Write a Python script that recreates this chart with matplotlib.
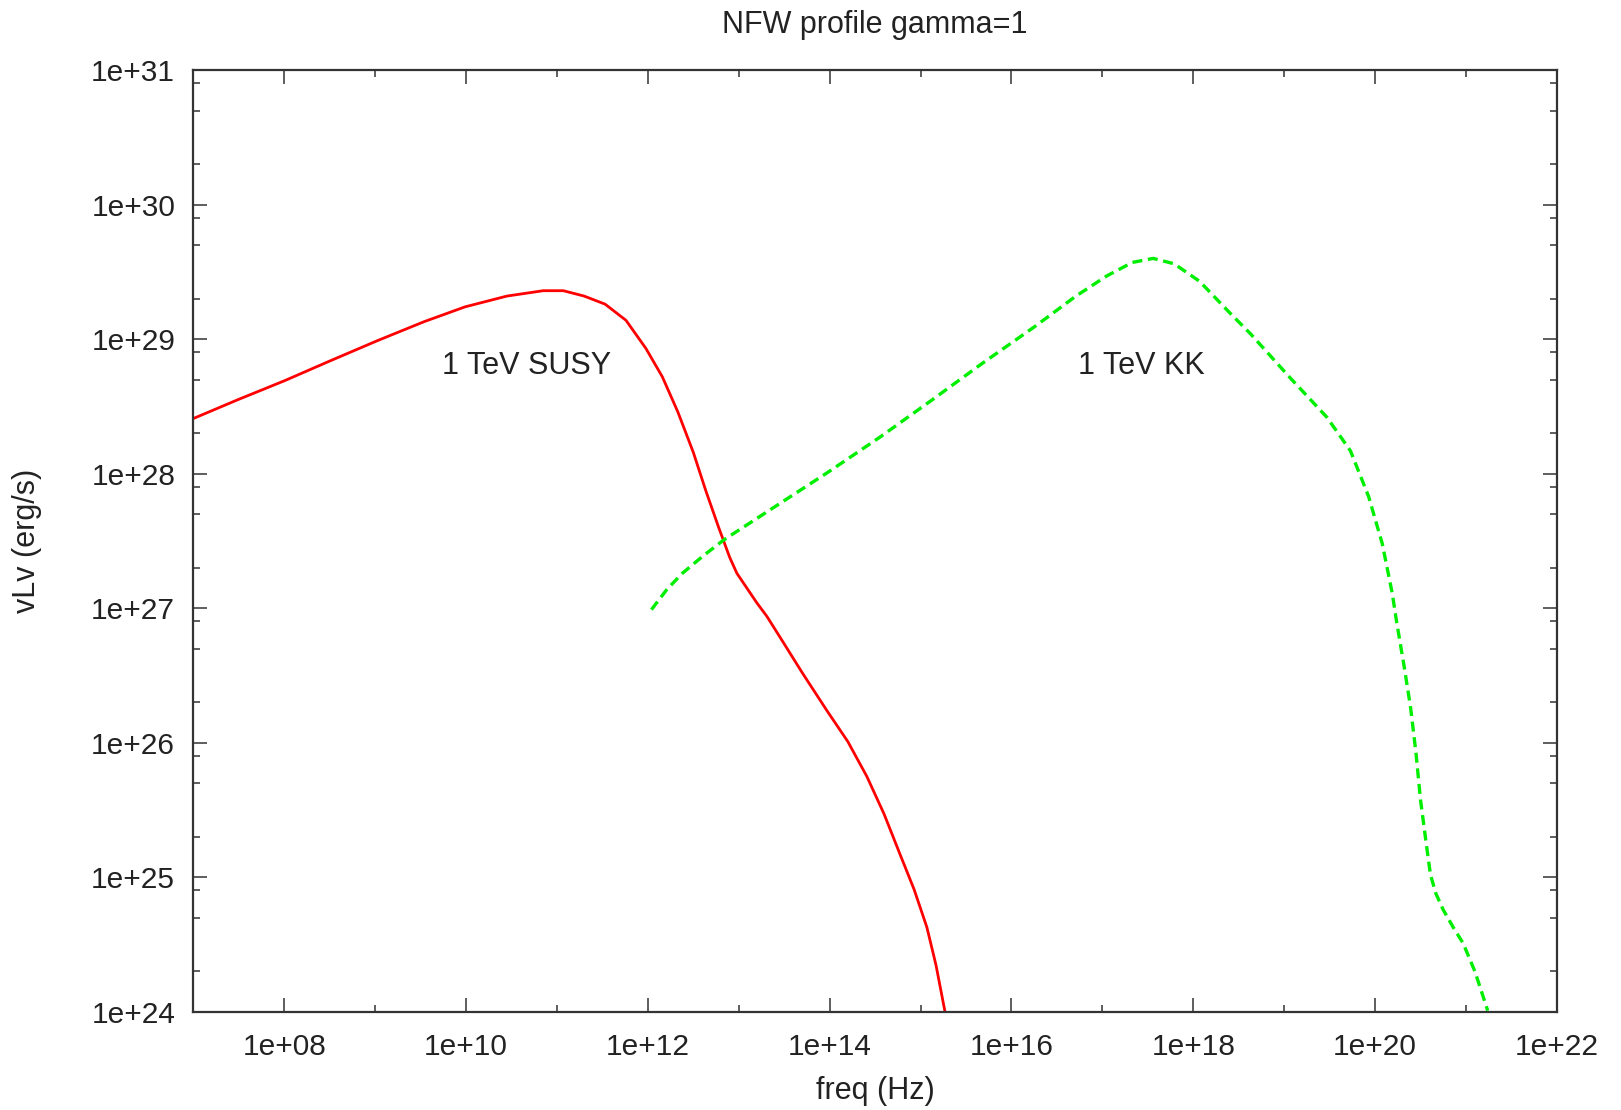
import numpy as np
import matplotlib
matplotlib.use("Agg")
import matplotlib.pyplot as plt
from matplotlib.ticker import FixedLocator, FuncFormatter, NullFormatter

plt.rcParams['font.family'] = ['Liberation Sans', 'DejaVu Sans']

# log10(freq / Hz) and log10(nu L_nu / erg s^-1) for each spectrum
susy_logfreq = [7.00, 7.49, 8.00, 8.51, 9.03, 9.54, 9.99, 10.45, 10.85, 11.07,
                11.30, 11.53, 11.76, 11.98, 12.16, 12.33, 12.50, 12.64, 12.78,
                12.90, 12.98, 13.10, 13.20, 13.31, 13.45, 13.70, 13.97, 14.20,
                14.41, 14.60, 14.77, 14.93, 15.07, 15.17, 15.27]
susy_loglum = [28.41, 28.55, 28.69, 28.84, 28.99, 29.13, 29.24, 29.32, 29.36, 29.36,
               29.32, 29.26, 29.14, 28.93, 28.72, 28.46, 28.16, 27.87, 27.60,
               27.38, 27.26, 27.14, 27.04, 26.94, 26.79, 26.52, 26.24, 26.01,
               25.75, 25.47, 25.18, 24.91, 24.63, 24.35, 24.00]

kk_logfreq = [12.04, 12.21, 12.38, 12.61, 12.84, 13.41, 13.98, 14.55, 15.11, 15.68,
              16.25, 16.71, 17.05, 17.33, 17.56, 17.79, 18.07, 18.41, 18.63, 19.07,
              19.47, 19.73, 19.93, 20.08, 20.19, 20.24, 20.32, 20.39, 20.45, 20.50,
              20.56, 20.61, 20.67, 20.75, 20.86, 20.97, 21.10, 21.24]
kk_loglum = [26.99, 27.14, 27.26, 27.39, 27.51, 27.76, 28.01, 28.27, 28.54, 28.82,
             29.09, 29.32, 29.47, 29.57, 29.60, 29.56, 29.43, 29.19, 29.04, 28.71,
             28.42, 28.17, 27.83, 27.48, 27.11, 26.89, 26.57, 26.27, 25.93, 25.58,
             25.27, 25.02, 24.88, 24.76, 24.63, 24.51, 24.30, 24.01]

x_major_exp = [8, 10, 12, 14, 16, 18, 20, 22]
x_minor_exp = [9, 11, 13, 15, 17, 19, 21]
y_major_exp = [24, 25, 26, 27, 28, 29, 30, 31]
y_minor_mult = [2, 5, 8]

ink = '#222222'

fig = plt.figure(figsize=(16.21, 11.10), dpi=100, facecolor='white')
ax = fig.add_axes([193.3 / 1621, (1110 - 1012) / 1110, 1363.5 / 1621, 942 / 1110])

ax.plot(10 ** np.array(susy_logfreq), 10 ** np.array(susy_loglum),
        color='#ff0000', lw=2.0, solid_joinstyle='round')
ax.plot(10 ** np.array(kk_logfreq), 10 ** np.array(kk_loglum),
        color='#00ee00', lw=2.4, dashes=(3.0, 1.7))

ax.set_xscale('log')
ax.set_yscale('log')
ax.set_xlim(1e7, 1e22)
ax.set_ylim(1e24, 1e31)

ax.xaxis.set_major_locator(FixedLocator([10.0 ** e for e in x_major_exp]))
ax.xaxis.set_minor_locator(FixedLocator([10.0 ** e for e in x_minor_exp]))
ax.yaxis.set_major_locator(FixedLocator([10.0 ** e for e in y_major_exp]))
ax.yaxis.set_minor_locator(FixedLocator([m * 10.0 ** e for e in y_major_exp[:-1]
                                         for m in y_minor_mult]))

fmt = FuncFormatter(lambda v, pos: "1e+%02d" % int(round(np.log10(v))))
ax.xaxis.set_major_formatter(fmt)
ax.yaxis.set_major_formatter(fmt)
ax.xaxis.set_minor_formatter(NullFormatter())
ax.yaxis.set_minor_formatter(NullFormatter())

ax.tick_params(which='both', direction='in', top=True, right=True,
               color='#333333', width=1.1, labelsize=21.5, labelcolor=ink)
ax.tick_params(which='major', length=10)
ax.tick_params(which='minor', length=5)
ax.tick_params(axis='x', which='major', pad=15)
ax.tick_params(axis='y', which='major', pad=13)

for s in ax.spines.values():
    s.set_linewidth(1.6)
    s.set_color('#333333')

ax.set_xlabel('freq (Hz)', fontsize=22, color=ink)
ax.xaxis.set_label_coords(0.5, -0.068)
ax.set_ylabel('vLv (erg/s)', fontsize=22, color=ink)
ax.yaxis.set_label_coords(-0.111, 0.5)

ax.text(0.5, 1.048, 'NFW profile gamma=1', transform=ax.transAxes,
        ha='center', va='center', fontsize=22, color=ink)

ax.text(10 ** 10.67, 10 ** 28.74, '1 TeV SUSY', ha='center', va='baseline',
        fontsize=22, color=ink)
ax.text(10 ** 17.43, 10 ** 28.74, '1 TeV KK', ha='center', va='baseline',
        fontsize=22, color=ink)

fig.savefig('out.png', dpi=100, facecolor='white')
